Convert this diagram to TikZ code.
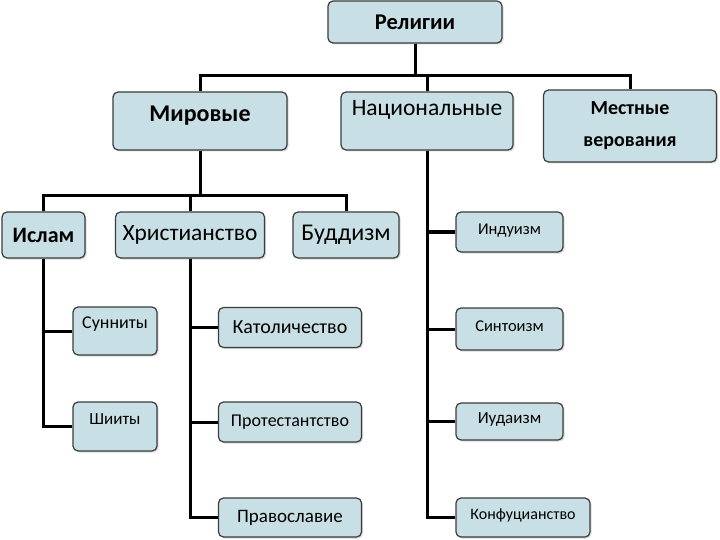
\documentclass[tikz,border=0pt]{standalone}
\usepackage{fontspec}
\setmainfont{Carlito}
\usepackage{xcolor}
\definecolor{relfill}{RGB}{200,224,229}
\definecolor{relline}{RGB}{60,60,60}
\usetikzlibrary{positioning, shadows}
\newcommand{\liftup}[2]{\smash{\raisebox{#1}{#2}}}

\begin{document}
\begin{tikzpicture}[x=1pt, y=-1pt,
  rbox/.style={draw=relline, line width=1.2pt, rounded corners=5pt, fill=relfill, align=center, inner sep=0pt,
    drop shadow={shadow xshift=1.5pt, shadow yshift=-1.5pt, opacity=0.3}},
  conn/.style={line width=3pt, black}]

\useasboundingbox[fill=white] (0,0) rectangle (720,540);

% верхний уровень
\node[rbox, minimum width=174pt, minimum height=42pt, font=\fontsize{22.5}{26}\selectfont\bfseries] (rel) at (415,22) {Религии};
\node[rbox, minimum width=174pt, minimum height=58pt, font=\fontsize{24}{28}\selectfont\bfseries] (mir) at (200,121) {\liftup{-1pt}{Мировые}};
\node[rbox, minimum width=172pt, minimum height=58pt, font=\fontsize{23.5}{27}\selectfont] (nat) at (427,121) {\liftup{5pt}{Национальные}};
\node[rbox, minimum width=173pt, minimum height=72pt, font=\fontsize{20}{24}\selectfont\bfseries] (loc) at (630,126) {Местные\\[8pt]верования};

% мировые религии
\node[rbox, minimum width=83pt, minimum height=46pt, font=\fontsize{22}{26}\selectfont\bfseries] (isl) at (43.5,235) {Ислам};
\node[rbox, minimum width=149pt, minimum height=46pt, font=\fontsize{23.4}{27}\selectfont] (chr) at (190,235) {Христианство};
\node[rbox, minimum width=106pt, minimum height=46pt, font=\fontsize{24}{28}\selectfont] (bud) at (346,235) {Буддизм};

% ислам
\node[rbox, minimum width=84pt, minimum height=48pt, font=\fontsize{18}{21}\selectfont] (sun) at (115,331) {\liftup{2.2pt}{Сунниты}};
\node[rbox, minimum width=84pt, minimum height=49pt, font=\fontsize{17}{20}\selectfont] (shi) at (115,426.5) {\liftup{2.5pt}{Шииты}};

% христианство
\node[rbox, minimum width=143pt, minimum height=40pt, font=\fontsize{20}{24}\selectfont] (kat) at (290,327.5) {Католичество};
\node[rbox, minimum width=143pt, minimum height=40pt, font=\fontsize{18}{22}\selectfont] (pro) at (290,422) {Протестантство};
\node[rbox, minimum width=143pt, minimum height=39pt, font=\fontsize{19}{23}\selectfont] (pra) at (290,517.5) {Православие};

% национальные религии
\node[rbox, minimum width=107pt, minimum height=40pt, font=\fontsize{16.5}{20}\selectfont] (ind) at (509.5,232) {\liftup{-2.3pt}{Индуизм}};
\node[rbox, minimum width=107pt, minimum height=42pt, font=\fontsize{16.5}{20}\selectfont] (sin) at (509.5,329) {\liftup{-2.3pt}{Синтоизм}};
\node[rbox, minimum width=107pt, minimum height=37pt, font=\fontsize{17}{20}\selectfont] (iud) at (509.5,421.5) {\liftup{-2pt}{Иудаизм}};
\node[rbox, minimum width=134pt, minimum height=39pt, font=\fontsize{16}{19}\selectfont] (kon) at (523,517.5) {\liftup{-2pt}{Конфуцианство}};

% линии
\draw[conn] (rel.south) -- ++(0,32) coordinate (bus) -| (mir.north);
\draw[conn] (bus) -| (nat.north);
\draw[conn] (bus) -| (loc.north);
\draw[conn] (mir.south) -- ++(0,45) coordinate (mbus) -| (isl.north);
\draw[conn] (mbus) -| (chr.north);
\draw[conn] (mbus) -| (bud.north);
\draw[conn] (isl.south) |- (sun.west);
\draw[conn] (isl.south) |- (shi.west);
\draw[conn] (chr.south) |- (kat.west);
\draw[conn] (chr.south) |- (pro.west);
\draw[conn] (chr.south) |- (pra.west);
\draw[conn] (nat.south) |- (ind.west);
\draw[conn] (nat.south) |- (sin.west);
\draw[conn] (nat.south) |- (iud.west);
\draw[conn] (nat.south) |- (kon.west);
\end{tikzpicture}
\end{document}
